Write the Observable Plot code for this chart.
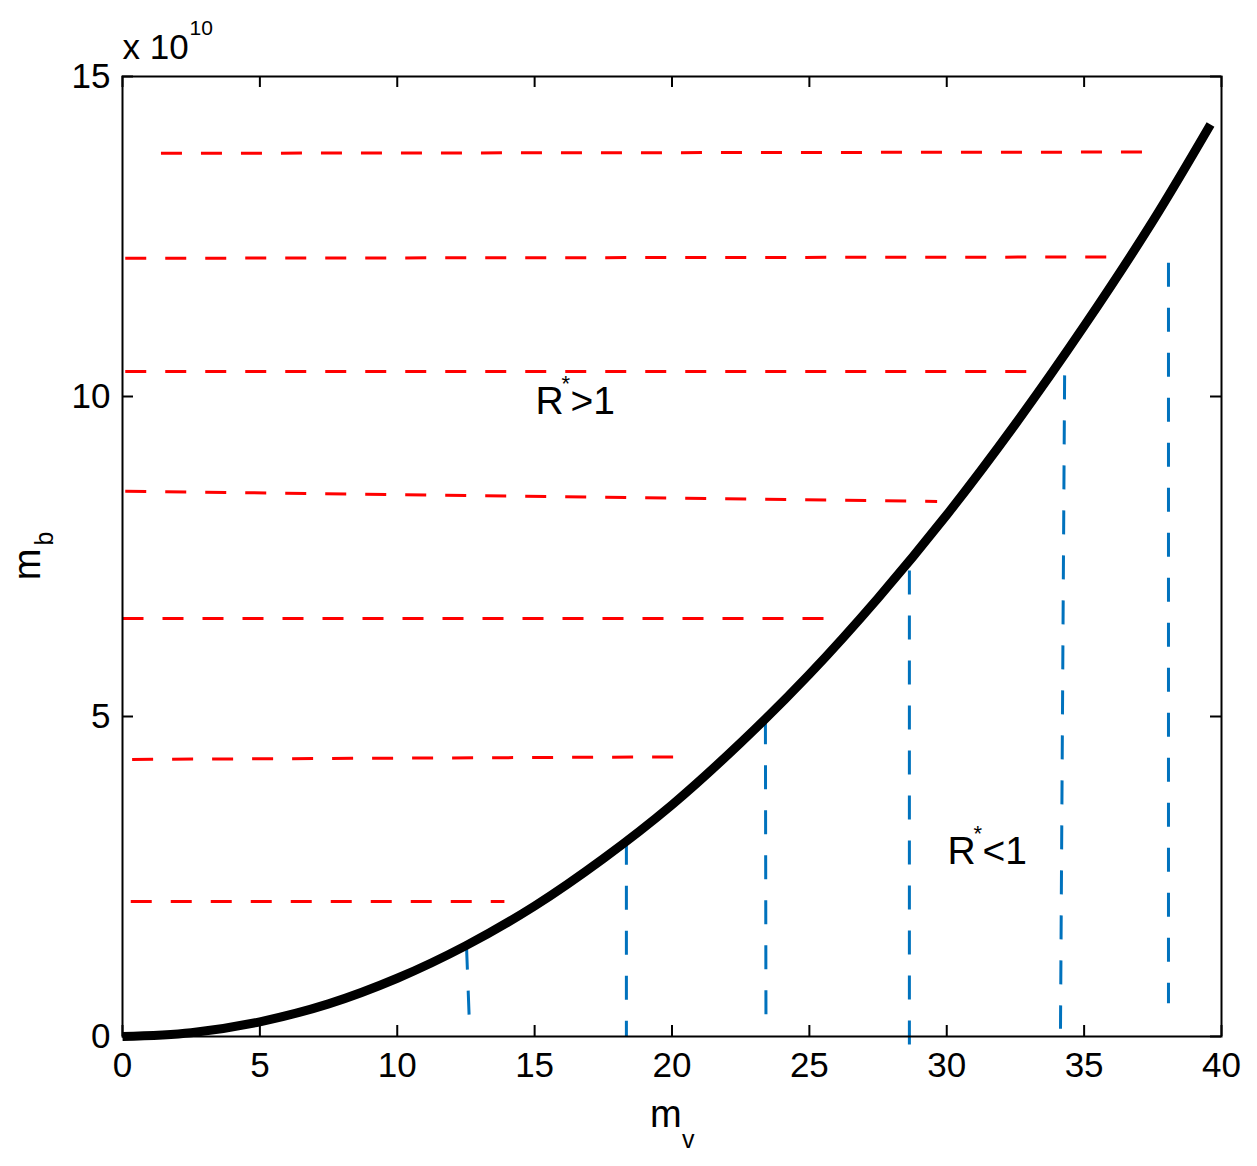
<!DOCTYPE html>
<html>
<head>
<meta charset="utf-8">
<script src="https://cdn.jsdelivr.net/npm/d3@7"></script>
<script src="https://cdn.jsdelivr.net/npm/@observablehq/plot@0.6"></script>
<style>
  body { margin: 0; background: #fff; }
  #chart svg { display: block; }
</style>
</head>
<body>
<div id="chart"></div>
<script>
// Curve m_b (x 10^10) against m_v
const curveMv = [0, 2.5, 5, 7.5, 10, 12.5, 15, 17.5, 20, 22.5, 25, 27.5, 30, 32.5, 35, 37.5, 39.6];
const curveMb = [0, 0.06, 0.23, 0.51, 0.91, 1.42, 2.04, 2.78, 3.62, 4.59, 5.66, 6.85, 8.15, 9.57, 11.1, 12.74, 14.25];

// Red dashed horizontal lines (x1, y1) -> (x2, y2)
const redX1 = [1.4, 0.1, 0.1, 0.1, 0.0, 0.35, 0.3];
const redX2 = [37.6, 36.25, 33.5, 29.65, 25.8, 20.5, 13.9];
const redY1 = [13.80, 12.16, 10.39, 8.52, 6.53, 4.33, 2.11];
const redY2 = [13.82, 12.18, 10.39, 8.36, 6.53, 4.37, 2.11];

// Blue dashed vertical lines
const blueX1 = [12.52, 18.34, 23.40, 28.64, 34.29, 38.07];
const blueX2 = [12.62, 18.34, 23.42, 28.64, 34.14, 38.07];
const blueTop = [1.42, 3.06, 4.94, 7.28, 10.33, 12.09];
const blueBottom = [0.28, 0.0, 0.28, -0.14, 0.12, 0.52];

// Axis ticks
const xTicks = [0, 5, 10, 15, 20, 25, 30, 35, 40];
const yTicks = [0, 5, 10, 15];

// Region labels
const regionLabels = [
  {x: 15.03, y: 9.72, sign: ">1"},
  {x: 30.03, y: 2.70, sign: "<1"}
];

const curve = curveMv.map((x, i) => ({x, y: curveMb[i]}));
const reds = redX1.map((x1, i) => ({x1, x2: redX2[i], y1: redY1[i], y2: redY2[i]}));
const blues = blueX1.map((x1, i) => ({x1, x2: blueX2[i], y1: blueTop[i], y2: blueBottom[i]}));

const FONT = "'Liberation Sans', Arial, Helvetica, sans-serif";
const W = 1257, H = 1166;
const mT = 76, mB = 130, mL = 122, mR = 36;
const fw = W - mL - mR, fh = H - mT - mB;

const chart = Plot.plot({
  width: W,
  height: H,
  marginTop: mT,
  marginBottom: mB,
  marginLeft: mL,
  marginRight: mR,
  style: {fontFamily: FONT, background: "#fff", overflow: "visible"},
  x: {domain: [0, 40]},
  y: {domain: [0, 15]},
  marks: [
    // tick labels
    Plot.axisX(xTicks, {tickSize: 0, tickPadding: 16, fontSize: 35, fill: "black", label: null, tickFormat: "d"}),
    Plot.axisY(yTicks, {tickSize: 0, tickPadding: 12, fontSize: 35, fill: "black", label: null, tickFormat: "d"}),
    // inward ticks on all four sides
    Plot.tickX(xTicks, {x: d => d, insetTop: fh - 11, stroke: "black", strokeWidth: 2}),
    Plot.tickX(xTicks, {x: d => d, insetBottom: fh - 11, stroke: "black", strokeWidth: 2}),
    Plot.tickY(yTicks, {y: d => d, insetRight: fw - 11, stroke: "black", strokeWidth: 2}),
    Plot.tickY(yTicks, {y: d => d, insetLeft: fw - 11, stroke: "black", strokeWidth: 2}),
    // red dashed lines
    Plot.link(reds, {x1: "x1", y1: "y1", x2: "x2", y2: "y2", stroke: "#ff0000", strokeWidth: 3, strokeDasharray: "21,19"}),
    // blue dashed lines
    Plot.link(blues, {x1: "x1", y1: "y1", x2: "x2", y2: "y2", stroke: "#0072bd", strokeWidth: 3, strokeDasharray: "24,21"}),
    // curve
    Plot.line(curve, {x: "x", y: "y", stroke: "black", strokeWidth: 9, curve: "catmull-rom", strokeLinecap: "butt"}),
    // frame
    Plot.frame({stroke: "black", strokeWidth: 2}),
    // region labels
    Plot.text(regionLabels, {x: "x", y: "y", text: () => "R", textAnchor: "start", lineAnchor: "bottom", fontSize: 39, fill: "black"}),
    Plot.text(regionLabels, {x: "x", y: "y", text: () => "*", textAnchor: "start", lineAnchor: "bottom", fontSize: 22, dx: 26, dy: -23, fill: "black"}),
    Plot.text(regionLabels, {x: "x", y: "y", text: "sign", textAnchor: "start", lineAnchor: "bottom", fontSize: 39, dx: 35, fill: "black"}),
    // exponent label
    Plot.text(["x 10"], {frameAnchor: "top-left", textAnchor: "start", lineAnchor: "bottom", dy: -18, fontSize: 35, fill: "black"}),
    Plot.text(["10"], {frameAnchor: "top-left", textAnchor: "start", lineAnchor: "bottom", dx: 67, dy: -42, fontSize: 21, fill: "black"}),
    // axis titles
    Plot.text(["m"], {frameAnchor: "bottom", textAnchor: "start", lineAnchor: "bottom", dx: -22, dy: 90, fontSize: 38, fill: "black"}),
    Plot.text(["v"], {frameAnchor: "bottom", textAnchor: "start", lineAnchor: "bottom", dx: 10, dy: 111, fontSize: 25, fill: "black"}),
    Plot.text(["m"], {frameAnchor: "left", textAnchor: "middle", lineAnchor: "middle", rotate: -90, dx: -95, dy: 8, fontSize: 38, fill: "black"}),
    Plot.text(["b"], {frameAnchor: "left", textAnchor: "middle", lineAnchor: "middle", rotate: -90, dx: -78, dy: -18, fontSize: 25, fill: "black"})
  ]
});

document.getElementById("chart").appendChild(chart);
</script>
</body>
</html>
